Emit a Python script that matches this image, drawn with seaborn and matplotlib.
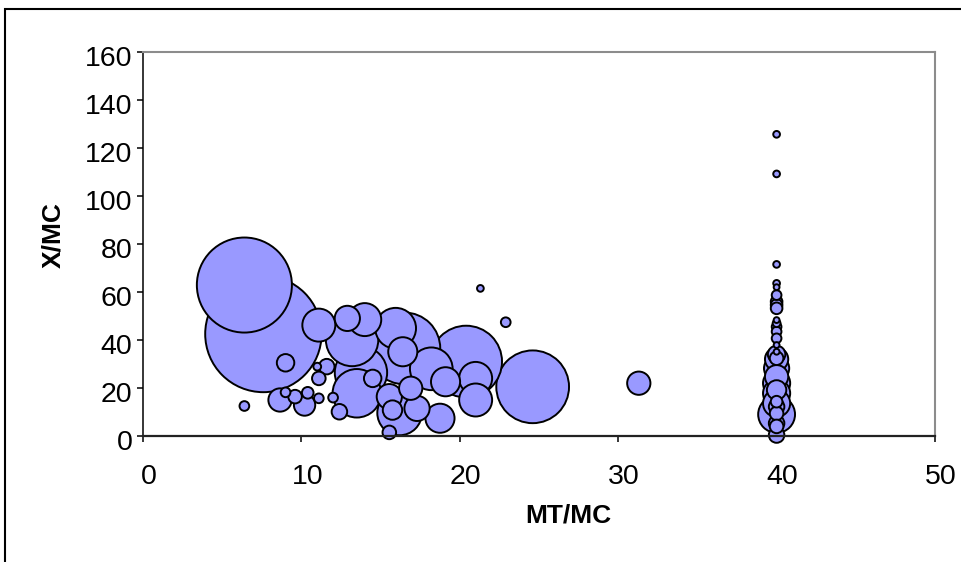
import numpy as np
import pandas as pd
import matplotlib
matplotlib.use("Agg")
import matplotlib.pyplot as plt
import matplotlib.transforms as mtransforms
from matplotlib.patches import Rectangle
import seaborn as sns

# MT/MC ratio per item
mt_mc = [6.4, 7.6, 6.4, 9.0, 11.1, 21.3, 22.9, 24.6, 20.4, 21.0,
         21.0, 19.1, 18.75, 17.3, 16.9, 15.55, 15.75, 15.55, 16.2, 15.95,
         16.4, 16.5, 13.76, 13.2, 14.0, 12.9, 14.5, 12.4, 12.0, 11.1,
         11.6, 11.0, 10.2, 10.4, 9.6, 9.0, 8.65, 11.1, 31.3,
         13.5, 18.2,
         40, 40, 40, 40, 40, 40, 40, 40, 40, 40,
         40, 40, 40, 40, 40, 40, 40, 40, 40, 40,
         40, 40, 40, 40, 40, 40, 40, 40, 40, 40,
         40, 40]

# X/MC ratio per item
x_mc = [62.9, 42.5, 12.5, 30.5, 46.2, 61.5, 47.4, 20.5, 31.0, 24.0,
        15.0, 22.6, 7.4, 11.5, 19.9, 16.4, 10.8, 1.5, 9.6, 44.9,
        35.1, 36.5, 26.4, 40.0, 48.5, 49.0, 24.0, 10.1, 16.0, 24.0,
        28.9, 28.9, 12.9, 18.0, 16.4, 18.2, 15.0, 15.7, 22.0,
        17.8, 28.0,
        125.7, 109.2, 71.5, 63.6, 62.0, 58.7, 56.0, 54.6, 53.2, 48.3,
        47.0, 45.5, 43.5, 40.7, 37.9, 35.1, 34.0, 32.4, 32.0, 28.2,
        24.7, 22.0, 19.2, 17.8, 14.3, 13.6, 12.2, 9.0, 9.4, 5.3,
        4.0, 0.4]

# bubble weight (area-proportional)
weight = [2401, 3600, 25, 81, 289, 12, 25, 1406, 1369, 289,
          289, 225, 225, 169, 144, 169, 100, 49, 529, 441,
          225, 1369, 729, 729, 289, 169, 81, 64, 25, 49,
          64, 16, 121, 36, 49, 25, 144, 25, 144,
          625, 484,
          12, 12, 12, 12, 9, 25, 36, 36, 36, 9,
          16, 25, 25, 25, 9, 9, 81, 49, 144, 169,
          144, 196, 100, 196, 36, 196, 64, 361, 49, 64,
          49, 64]

x_ticks = [0, 10, 20, 30, 40, 50]
y_ticks = [0, 20, 40, 60, 80, 100, 120, 140, 160]

df = pd.DataFrame({"MT/MC": mt_mc, "X/MC": x_mc, "weight": weight})
# largest bubbles first so smaller ones stay visible on top
df = df.sort_values("weight", ascending=False, kind="stable")

sns.set_theme(style="white")
plt.rcParams["font.family"] = ["Liberation Sans", "DejaVu Sans"]
plt.rcParams["text.color"] = "black"
plt.rcParams["axes.labelcolor"] = "black"
plt.rcParams["xtick.color"] = "black"
plt.rcParams["ytick.color"] = "black"

fig = plt.figure(figsize=(9.62, 5.62), dpi=100)
ax = fig.add_axes([143 / 962, 1 - 436 / 562, 792 / 962, 384 / 562])

wmax = max(weight)
sns.scatterplot(data=df, x="MT/MC", y="X/MC", size="weight",
                sizes=(0, 1.95 * wmax), size_norm=(0, wmax),
                color="#9999FF", edgecolor="black", linewidth=1.4,
                alpha=1, legend=False, clip_on=False, ax=ax)

ax.set_xlim(0, 50)
ax.set_ylim(0, 160)
ax.set_xticks(x_ticks)
ax.set_yticks(y_ticks)
ax.set_xticklabels([str(t) for t in x_ticks])
ax.set_yticklabels([str(t) for t in y_ticks])

ax.tick_params(axis="y", direction="out", length=4.5, width=1.1, color="black",
               labelcolor="black", labelsize=20.5, pad=3, left=True)
ax.tick_params(axis="x", direction="out", length=4.5, width=1.1, color="black",
               labelcolor="black", labelsize=20.5, pad=16, bottom=True)

# nudge tick labels: x labels a little right, y labels a little down
x_shift = mtransforms.ScaledTranslation(0.06, 0, fig.dpi_scale_trans)
y_shift = mtransforms.ScaledTranslation(0, -0.04, fig.dpi_scale_trans)
for lab in ax.get_xticklabels():
    lab.set_transform(lab.get_transform() + x_shift)
for lab in ax.get_yticklabels():
    lab.set_transform(lab.get_transform() + y_shift)

for side in ("top", "right"):
    ax.spines[side].set_color("#8c8c8c")
    ax.spines[side].set_linewidth(1.5)
ax.spines["left"].set_color("black")
ax.spines["left"].set_linewidth(1.1)
ax.spines["bottom"].set_color("#222222")
ax.spines["bottom"].set_linewidth(1.6)
ax.grid(False)

ax.set_xlabel("MT/MC", fontsize=19, fontweight="bold", color="black")
ax.set_ylabel("X/MC", fontsize=19, fontweight="bold", color="black")
ax.xaxis.set_label_coords((568 - 143) / 792, -0.175)
ax.yaxis.set_label_coords(-0.098, 0.523)

# outer chart frame
fig.patches.append(Rectangle((5 / 962, -0.2), 1.5, 1.2 - 9 / 562,
                             transform=fig.transFigure, fill=False,
                             edgecolor="black", linewidth=1.5))

fig.savefig("out.png", dpi=100)
